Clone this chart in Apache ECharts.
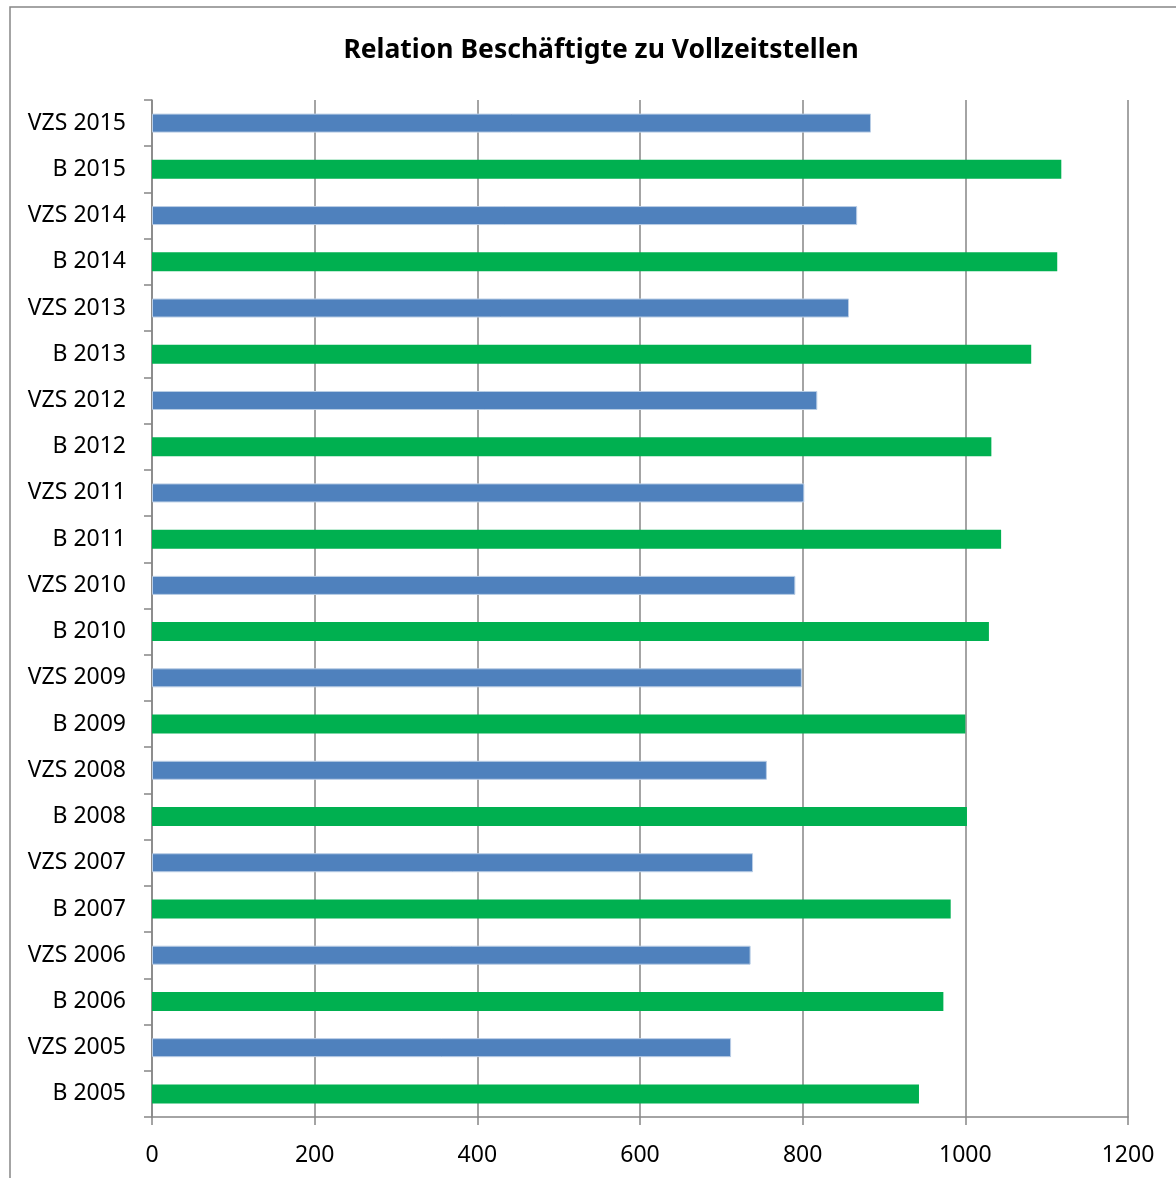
<!DOCTYPE html>
<html>
<head>
<meta charset="utf-8">
<script src="https://cdn.jsdelivr.net/npm/echarts@6/dist/echarts.min.js"></script>
<style>
  html, body { margin: 0; padding: 0; background: #ffffff; }
  #chart { width: 1176px; height: 1178px; }
</style>
</head>
<body>
<div id="chart"></div>
<script>
let categories = ["B 2005", "VZS 2005", "B 2006", "VZS 2006", "B 2007", "VZS 2007", "B 2008", "VZS 2008", "B 2009", "VZS 2009", "B 2010", "VZS 2010", "B 2011", "VZS 2011", "B 2012", "VZS 2012", "B 2013", "VZS 2013", "B 2014", "VZS 2014", "B 2015", "VZS 2015"];
let values = [943, 712, 973, 736, 982, 739, 1002, 756, 1000, 799, 1029, 791, 1044, 802, 1032, 818, 1081, 857, 1113, 867, 1118, 884];
let xTicks = [0, 200, 400, 600, 800, 1000, 1200];
let blue = "#4F81BD";
let green = "#00B050";
let gray = "#868686";

let chart = echarts.init(document.getElementById("chart"));

let barData = values.map(function (v, i) {
  let isVzs = categories[i].indexOf("VZS") === 0;
  return {
    value: v,
    itemStyle: isVzs ? { color: blue, borderColor: "#B9CDE5", borderWidth: 1 } : { color: green }
  };
});

chart.setOption({
  backgroundColor: "#ffffff",
  animation: false,
  title: {
    text: "Relation Beschäftigte zu Vollzeitstellen",
    left: 596,
    top: 32,
    textAlign: "center",
    textStyle: {
      fontFamily: "Noto Sans",
      fontWeight: "bold",
      fontSize: 26.5,
      color: "#000000"
    }
  },
  graphic: [{
    type: "rect",
    shape: { x: 10, y: 7, width: 1200, height: 1200 },
    style: { fill: "none", stroke: gray, lineWidth: 1.5 },
    silent: true
  }],
  grid: { left: 152, right: 48, top: 100, bottom: 61 },
  xAxis: {
    type: "value",
    min: xTicks[0],
    max: xTicks[xTicks.length - 1],
    interval: 200,
    axisLine: { show: true, lineStyle: { color: gray, width: 1.5 } },
    axisTick: { show: true, length: 8, inside: false, lineStyle: { color: gray, width: 1.5 } },
    axisLabel: {
      margin: 27,
      color: "#000000",
      fontFamily: "Noto Sans",
      fontSize: 23,
      formatter: function (v) { return String(v); }
    },
    splitLine: { show: true, lineStyle: { color: gray, width: 1.5 } }
  },
  yAxis: {
    type: "category",
    data: categories,
    axisLine: { show: true, lineStyle: { color: gray, width: 1.5 } },
    axisTick: { show: true, length: 8, lineStyle: { color: gray, width: 1.5 } },
    axisLabel: {
      margin: 26,
      color: "#000000",
      fontFamily: "Noto Sans",
      fontSize: 23,
      padding: [5, 0, 0, 0]
    }
  },
  series: [{
    type: "bar",
    data: barData,
    barWidth: 19
  }]
});
</script>
</body>
</html>
